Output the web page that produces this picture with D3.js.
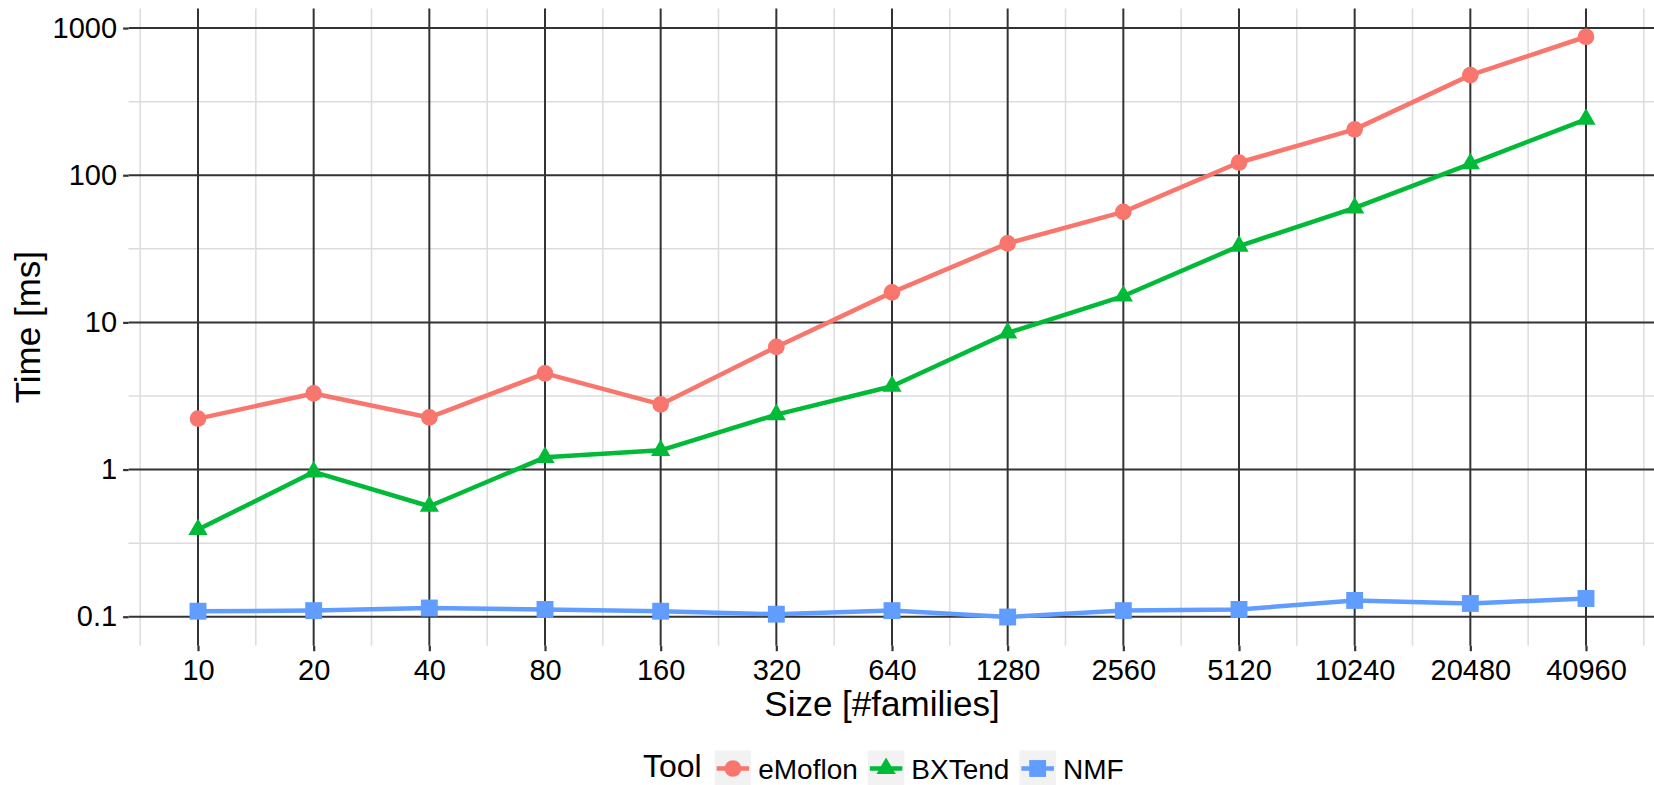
<!DOCTYPE html>
<html>
<head>
<meta charset="utf-8">
<script src="https://cdn.jsdelivr.net/npm/d3@7"></script>
<style>
  body { margin: 0; background: #fff; }
  text { font-family: "Liberation Sans", Arial, sans-serif; }
</style>
</head>
<body>
<div id="graph"></div>
<script>
// values
const sizes = [10, 20, 40, 80, 160, 320, 640, 1280, 2560, 5120, 10240, 20480, 40960];
const tools = ["eMoflon", "BXTend", "NMF"];
const eMoflon = [2.22, 3.29, 2.26, 4.5, 2.77, 6.81, 16.0, 34.4, 56.4, 122, 205, 479, 873];
const bxtend = [0.391, 0.963, 0.563, 1.21, 1.35, 2.36, 3.68, 8.48, 15.1, 33.0, 60.0, 119.6, 240];
const nmf = [0.109, 0.110, 0.1146, 0.112, 0.109, 0.104, 0.110, 0.0995, 0.110, 0.112, 0.129, 0.123, 0.133];
const yTicks = [0.1, 1, 10, 100, 1000];
const yMinor = [0.3162, 3.162, 31.62, 316.2];

const w = 1654;
const h = 785;
const margin = { top: 8.5, right: -1.4, bottom: 139.3, left: 128.6 };

const colors = ["#F8766D", "#00BA38", "#619CFF"];
const shapes = [d3.symbolCircle, d3.symbolTriangle, d3.symbolSquare];
const symSizes = [218, 160, 285];

const series = tools.map((t, i) => ({
  name: t,
  color: colors[i],
  shape: shapes[i],
  size: symSizes[i],
  values: [eMoflon, bxtend, nmf][i].map((v, j) => ({ x: sizes[j], y: v }))
}));

// log2 x with 5% expansion (0.6 of a doubling each side)
const xScale = d3
  .scaleLog()
  .base(2)
  .domain([sizes[0] * Math.pow(2, -0.6), sizes[sizes.length - 1] * Math.pow(2, 0.6)])
  .range([margin.left, w - margin.right]);

const yScale = d3
  .scaleLog()
  .domain([Math.pow(10, -1.197), Math.pow(10, 3.133)])
  .range([h - margin.bottom, margin.top]);

const xMinor = [sizes[0] / Math.SQRT2].concat(sizes.map((s) => s * Math.SQRT2));

const svg = d3
  .select("#graph")
  .append("svg")
  .attr("width", w)
  .attr("height", h);

const pTop = margin.top;
const pBottom = h - margin.bottom;
const pLeft = margin.left;
const pRight = w - margin.right;

// minor grid
svg.append("g")
  .selectAll("line")
  .data(yMinor)
  .enter()
  .append("line")
  .attr("x1", pLeft).attr("x2", pRight)
  .attr("y1", (d) => yScale(d)).attr("y2", (d) => yScale(d))
  .style("stroke", "#dcdcdc").style("stroke-width", 1.5);

svg.append("g")
  .selectAll("line")
  .data(xMinor)
  .enter()
  .append("line")
  .attr("x1", (d) => xScale(d)).attr("x2", (d) => xScale(d))
  .attr("y1", pTop).attr("y2", pBottom)
  .style("stroke", "#dcdcdc").style("stroke-width", 1.5);

// major grid
svg.append("g")
  .selectAll("line")
  .data(yTicks)
  .enter()
  .append("line")
  .attr("x1", pLeft).attr("x2", pRight)
  .attr("y1", (d) => yScale(d)).attr("y2", (d) => yScale(d))
  .style("stroke", "#333333").style("stroke-width", 2);

svg.append("g")
  .selectAll("line")
  .data(sizes)
  .enter()
  .append("line")
  .attr("x1", (d) => xScale(d)).attr("x2", (d) => xScale(d))
  .attr("y1", pTop).attr("y2", pBottom)
  .style("stroke", "#333333").style("stroke-width", 2);

// axes
const xAxis = d3.axisBottom(xScale).tickValues(sizes).tickFormat(d3.format("d")).tickSize(5.5).tickPadding(8);
const yAxis = d3.axisLeft(yScale).tickValues(yTicks).tickFormat((d) => String(d)).tickSize(5.5).tickPadding(6);

const gx = svg.append("g")
  .attr("id", "x-axis")
  .attr("transform", `translate(0, ${pBottom})`)
  .call(xAxis);

const gy = svg.append("g")
  .attr("id", "y-axis")
  .attr("transform", `translate(${pLeft}, 0)`)
  .call(yAxis);

[gx, gy].forEach((g) => {
  g.select(".domain").remove();
  g.selectAll(".tick line").style("stroke", "#333333").style("stroke-width", 2.2);
  g.selectAll(".tick text").style("font-size", "29px").style("fill", "#000");
});
gx.selectAll(".tick text").attr("dy", "0.71em");

// lines then points
const line = d3.line().x((d) => xScale(d.x)).y((d) => yScale(d.y));

svg.append("g")
  .selectAll("path")
  .data(series)
  .enter()
  .append("path")
  .attr("d", (d) => line(d.values))
  .style("fill", "none")
  .style("stroke", (d) => d.color)
  .style("stroke-width", 4.5)
  .style("stroke-linejoin", "round");

series.forEach((s) => {
  svg.append("g")
    .selectAll("path")
    .data(s.values)
    .enter()
    .append("path")
    .attr("transform", (d) => `translate(${xScale(d.x)}, ${yScale(d.y)})`)
    .attr("d", d3.symbol().type(s.shape).size(s.size))
    .style("fill", s.color);
});

// axis titles
svg.append("text")
  .attr("x", (pLeft + pRight) / 2 - 10)
  .attr("y", 716)
  .attr("text-anchor", "middle")
  .style("font-size", "35px")
  .text("Size [#families]");

svg.append("text")
  .attr("transform", `translate(40, ${(pTop + pBottom) / 2}) rotate(-90)`)
  .attr("text-anchor", "middle")
  .style("font-size", "35px")
  .text("Time [ms]");

// legend
const legend = svg.append("g").attr("id", "legend");
const legendY = 768.5;
const title = legend.append("text")
  .attr("x", 643)
  .attr("y", 777)
  .style("font-size", "32px")
  .text("Tool");

let lx = 643 + title.node().getComputedTextLength() + 13;
series.forEach((s) => {
  legend.append("rect")
    .attr("x", lx).attr("y", legendY - 18)
    .attr("width", 36.5).attr("height", 36.5)
    .style("fill", "#f2f2f2");
  legend.append("line")
    .attr("x1", lx + 2).attr("x2", lx + 34.5)
    .attr("y1", legendY).attr("y2", legendY)
    .style("stroke", s.color).style("stroke-width", 4.5);
  legend.append("path")
    .attr("transform", `translate(${lx + 18.25}, ${legendY})`)
    .attr("d", d3.symbol().type(s.shape).size(s.size))
    .style("fill", s.color);
  const t = legend.append("text")
    .attr("x", lx + 36.5 + 7)
    .attr("y", legendY + 10)
    .style("font-size", "28px")
    .text(s.name);
  lx += 36.5 + 7 + t.node().getComputedTextLength() + 10;
});
</script>
</body>
</html>
